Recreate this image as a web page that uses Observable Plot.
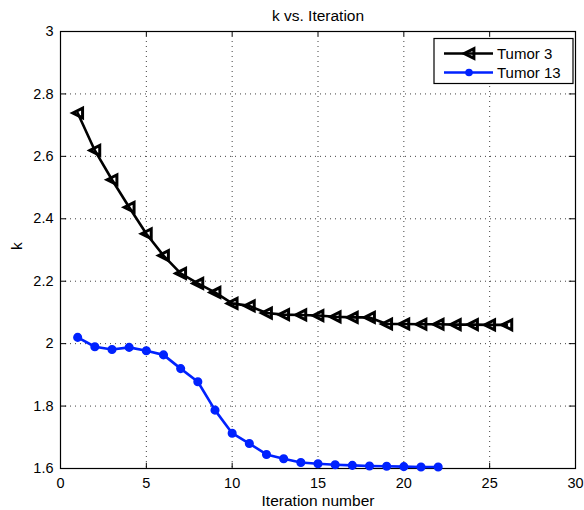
<!DOCTYPE html>
<html>
<head>
<meta charset="utf-8">
<script src="https://cdn.jsdelivr.net/npm/d3@7"></script>
<script src="https://cdn.jsdelivr.net/npm/@observablehq/plot@0.6"></script>
<style>
  html, body { margin: 0; padding: 0; background: #fff; }
  #chart { width: 584px; height: 510px; }
  svg { font-family: "Liberation Sans", Arial, sans-serif; }
</style>
</head>
<body>
<div id="chart"></div>
<script>
// ---- data ----
const tumor3Iter = [1,2,3,4,5,6,7,8,9,10,11,12,13,14,15,16,17,18,19,20,21,22,23,24,25,26];
const tumor3K = [2.739,2.619,2.525,2.437,2.352,2.282,2.225,2.193,2.164,2.129,2.121,2.098,2.093,2.092,2.090,2.086,2.084,2.084,2.063,2.063,2.062,2.062,2.061,2.061,2.060,2.060];
const tumor13Iter = [1,2,3,4,5,6,7,8,9,10,11,12,13,14,15,16,17,18,19,20,21,22];
const tumor13K = [2.020,1.990,1.981,1.988,1.977,1.964,1.920,1.878,1.787,1.713,1.680,1.645,1.631,1.619,1.615,1.612,1.610,1.608,1.607,1.606,1.605,1.605];
const xTicks = [0,5,10,15,20,25,30];
const yTicks = [1.6,1.8,2.0,2.2,2.4,2.6,2.8,3.0];
const seriesNames = ["Tumor 3", "Tumor 13"];
const seriesColors = ["#000000", "#0022ff"];
const titleText = "k vs. Iteration";
const xLabel = "Iteration number";
const yLabel = "k";

const t3 = tumor3Iter.map((x, i) => ({x, y: tumor3K[i]}));
const t13 = tumor13Iter.map((x, i) => ({x, y: tumor13K[i]}));

// left-pointing triangle symbol
const triLeft = {
  draw(context, size) {
    const s = Math.sqrt(size / Math.PI);
    context.moveTo(-s, 0);
    context.lineTo(s, -s);
    context.lineTo(s, s);
    context.closePath();
  }
};

const xr = 30 * 0.012, yr = 1.4 * 0.012;

const plot = Plot.plot({
  width: 584,
  height: 510,
  marginLeft: 60,
  marginRight: 9,
  marginTop: 31,
  marginBottom: 42,
  style: {fontFamily: '"Liberation Sans", Arial, sans-serif', fontSize: "14.5px", color: "#000", background: "#fff"},
  x: {domain: [0, 30], ticks: xTicks},
  y: {domain: [1.6, 3.0], ticks: yTicks},
  marks: [
    Plot.gridX(xTicks, {stroke: "#000", strokeOpacity: 0.75, strokeDasharray: "1,4", strokeWidth: 1}),
    Plot.gridY(yTicks, {stroke: "#000", strokeOpacity: 0.75, strokeDasharray: "1,4", strokeWidth: 1}),
    // inward tick marks
    Plot.ruleX(xTicks, {x: d => d, y1: 1.6, y2: 1.6 + yr, stroke: "#000"}),
    Plot.ruleX(xTicks, {x: d => d, y1: 3.0, y2: 3.0 - yr, stroke: "#000"}),
    Plot.ruleY(yTicks, {y: d => d, x1: 0, x2: xr, stroke: "#000"}),
    Plot.ruleY(yTicks, {y: d => d, x1: 30, x2: 30 - xr, stroke: "#000"}),
    Plot.frame({stroke: "#000", strokeWidth: 1.2}),
    Plot.axisX(xTicks, {tickSize: 0, tickPadding: 9, label: null, fontSize: 14.5}),
    Plot.axisY(yTicks, {tickSize: 0, tickPadding: 7, label: null, fontSize: 14.5, tickFormat: d => d3.format("~g")(+d.toFixed(1))}),
    Plot.line(t3, {x: "x", y: "y", stroke: seriesColors[0], strokeWidth: 2.6}),
    Plot.dot(t3, {x: "x", y: "y", symbol: triLeft, r: 4.9, stroke: seriesColors[0], strokeWidth: 3, strokeLinejoin: "miter", fill: "none"}),
    Plot.line(t13, {x: "x", y: "y", stroke: seriesColors[1], strokeWidth: 2.6}),
    Plot.dot(t13, {x: "x", y: "y", r: 3.8, fill: seriesColors[1], stroke: seriesColors[1]}),
    Plot.text([titleText], {frameAnchor: "top", lineAnchor: "middle", dy: -15, fontSize: 15.5, text: d => d}),
    Plot.text([xLabel], {frameAnchor: "bottom", lineAnchor: "middle", dy: 33, fontSize: 15.5, text: d => d}),
    Plot.text([yLabel], {frameAnchor: "left", dx: -43, rotate: -90, fontSize: 15.5, text: d => d})
  ]
});

// legend inside the plot (top-right)
const svg = d3.select(plot);
const lg = svg.append("g").attr("transform", "translate(434,38.5)");
lg.append("rect").attr("width", 139).attr("height", 45).attr("fill", "#fff").attr("stroke", "#000").attr("stroke-width", 1.2);
seriesNames.forEach((name, i) => {
  const y = 15 + i * 19;
  lg.append("line").attr("x1", 10).attr("x2", 59).attr("y1", y).attr("y2", y)
    .attr("stroke", seriesColors[i]).attr("stroke-width", 2.6);
  if (i === 0) {
    lg.append("path").attr("d", d3.symbol(triLeft, 4.9 * 4.9 * Math.PI)()).attr("transform", `translate(35,${y})`)
      .attr("fill", "none").attr("stroke", seriesColors[i]).attr("stroke-width", 3);
  } else {
    lg.append("circle").attr("cx", 35).attr("cy", y).attr("r", 3.8).attr("fill", seriesColors[i]);
  }
  lg.append("text").attr("x", 63).attr("y", y).attr("dy", "0.35em").attr("text-anchor", "start")
    .attr("font-size", 15).text(name);
});

document.getElementById("chart").appendChild(plot);
</script>
</body>
</html>
